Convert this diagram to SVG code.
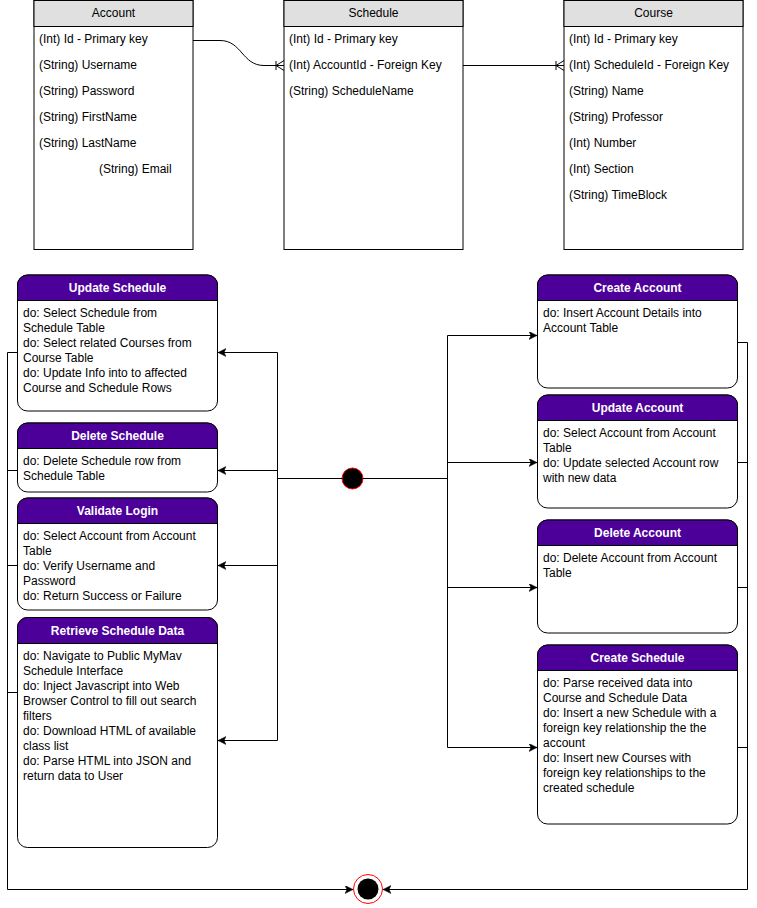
<svg xmlns="http://www.w3.org/2000/svg" width="757" height="908" viewBox="0 0 757 908">
<defs>
<style>
text{font-family:"Liberation Sans",Arial,Helvetica,sans-serif;font-size:12px;fill:#000}
.tbl{fill:#fff;stroke:#000;stroke-width:1}
.thead{fill:#e0e0e0;stroke:#000;stroke-width:1}
.ttl{text-anchor:middle}
.st{fill:#fff;stroke:#000;stroke-width:1}
.sh{fill:#4c0099;stroke:#000;stroke-width:1}
.sht{fill:#fff;font-weight:bold;text-anchor:middle}
.ln{fill:none;stroke:#000;stroke-width:1}
.arr{fill:none;stroke:#000;stroke-width:1;marker-end:url(#ah)}
</style>
<marker id="ah" markerUnits="userSpaceOnUse" markerWidth="10" markerHeight="10" refX="8" refY="4" orient="auto">
<path d="M0,0 L8,4 L0,8 L2,4 Z" fill="#000" stroke="#000" stroke-width="0.5"/>
</marker>
</defs>
<rect width="757" height="908" fill="#fff"/>

<g id="account">
<rect class="tbl" x="34" y="0.5" width="159" height="249"/>
<rect class="thead" x="34" y="0.5" width="159" height="26"/>
<text class="ttl" x="113.5" y="16.5">Account</text>
<text x="39" y="42.5">(Int) Id - Primary key</text>
<text x="39" y="68.5">(String) Username</text>
<text x="39" y="94.5">(String) Password</text>
<text x="39" y="120.5">(String) FirstName</text>
<text x="39" y="146.5">(String) LastName</text>
<text x="99" y="172.5">(String) Email</text>
</g>

<g id="schedule">
<rect class="tbl" x="284" y="0.5" width="179" height="249"/>
<rect class="thead" x="284" y="0.5" width="179" height="26"/>
<text class="ttl" x="373.5" y="16.5">Schedule</text>
<text x="289" y="42.5">(Int) Id - Primary key</text>
<text x="289" y="68.5">(Int) AccountId - Foreign Key</text>
<text x="289" y="94.5">(String) ScheduleName</text>
</g>

<g id="course">
<rect class="tbl" x="564" y="0.5" width="179" height="249"/>
<rect class="thead" x="564" y="0.5" width="179" height="26"/>
<text class="ttl" x="653.5" y="16.5">Course</text>
<text x="569" y="42.5">(Int) Id - Primary key</text>
<text x="569" y="68.5">(Int) ScheduleId - Foreign Key</text>
<text x="569" y="94.5">(String) Name</text>
<text x="569" y="120.5">(String) Professor</text>
<text x="569" y="146.5">(Int) Number</text>
<text x="569" y="172.5">(Int) Section</text>
<text x="569" y="198.5">(String) TimeBlock</text>
</g>

<g id="update-schedule">
<rect class="st" x="17.5" y="275" width="200" height="136" rx="10"/>
<path class="sh" d="M17.5,300.5 V285 A10,10 0 0 1 27.5,275 H207.5 A10,10 0 0 1 217.5,285 V300.5 Z"/>
<text class="sht" x="117.5" y="292">Update Schedule</text>
<text x="23" y="317">do: Select Schedule from</text>
<text x="23" y="332">Schedule Table</text>
<text x="23" y="347">do: Select related Courses from</text>
<text x="23" y="362">Course Table</text>
<text x="23" y="377">do: Update Info into to affected</text>
<text x="23" y="392">Course and Schedule Rows</text>
</g>

<g id="delete-schedule">
<rect class="st" x="17.5" y="423" width="200" height="69" rx="10"/>
<path class="sh" d="M17.5,448.5 V433 A10,10 0 0 1 27.5,423 H207.5 A10,10 0 0 1 217.5,433 V448.5 Z"/>
<text class="sht" x="117.5" y="440">Delete Schedule</text>
<text x="23" y="465">do: Delete Schedule row from</text>
<text x="23" y="480">Schedule Table</text>
</g>

<g id="validate-login">
<rect class="st" x="17.5" y="498" width="200" height="112" rx="10"/>
<path class="sh" d="M17.5,523.5 V508 A10,10 0 0 1 27.5,498 H207.5 A10,10 0 0 1 217.5,508 V523.5 Z"/>
<text class="sht" x="117.5" y="515">Validate Login</text>
<text x="23" y="540">do: Select Account from Account</text>
<text x="23" y="555">Table</text>
<text x="23" y="570">do: Verify Username and</text>
<text x="23" y="585">Password</text>
<text x="23" y="600">do: Return Success or Failure</text>
</g>

<g id="retrieve-schedule-data">
<rect class="st" x="17.5" y="617.5" width="200" height="230" rx="10"/>
<path class="sh" d="M17.5,643.5 V627.5 A10,10 0 0 1 27.5,617.5 H207.5 A10,10 0 0 1 217.5,627.5 V643.5 Z"/>
<text class="sht" x="117.5" y="635">Retrieve Schedule Data</text>
<text x="23" y="660">do: Navigate to Public MyMav</text>
<text x="23" y="675">Schedule Interface</text>
<text x="23" y="690">do: Inject Javascript into Web</text>
<text x="23" y="705">Browser Control to fill out search</text>
<text x="23" y="720">filters</text>
<text x="23" y="735">do: Download HTML of available</text>
<text x="23" y="750">class list</text>
<text x="23" y="765">do: Parse HTML into JSON and</text>
<text x="23" y="780">return data to User</text>
</g>

<g id="create-account">
<rect class="st" x="537.5" y="275" width="200" height="113" rx="10"/>
<path class="sh" d="M537.5,300.5 V285 A10,10 0 0 1 547.5,275 H727.5 A10,10 0 0 1 737.5,285 V300.5 Z"/>
<text class="sht" x="637.5" y="292">Create Account</text>
<text x="543" y="317">do: Insert Account Details into</text>
<text x="543" y="332">Account Table</text>
</g>

<g id="update-account">
<rect class="st" x="537.5" y="395" width="200" height="113" rx="10"/>
<path class="sh" d="M537.5,420.5 V405 A10,10 0 0 1 547.5,395 H727.5 A10,10 0 0 1 737.5,405 V420.5 Z"/>
<text class="sht" x="637.5" y="412">Update Account</text>
<text x="543" y="437">do: Select Account from Account</text>
<text x="543" y="452">Table</text>
<text x="543" y="467">do: Update selected Account row</text>
<text x="543" y="482">with new data</text>
</g>

<g id="delete-account">
<rect class="st" x="537.5" y="520" width="200" height="113" rx="10"/>
<path class="sh" d="M537.5,545.5 V530 A10,10 0 0 1 547.5,520 H727.5 A10,10 0 0 1 737.5,530 V545.5 Z"/>
<text class="sht" x="637.5" y="537">Delete Account</text>
<text x="543" y="562">do: Delete Account from Account</text>
<text x="543" y="577">Table</text>
</g>

<g id="create-schedule">
<rect class="st" x="537.5" y="645" width="200" height="179" rx="10"/>
<path class="sh" d="M537.5,670.5 V655 A10,10 0 0 1 547.5,645 H727.5 A10,10 0 0 1 737.5,655 V670.5 Z"/>
<text class="sht" x="637.5" y="662">Create Schedule</text>
<text x="543" y="687">do: Parse received data into</text>
<text x="543" y="702">Course and Schedule Data</text>
<text x="543" y="717">do: Insert a new Schedule with a</text>
<text x="543" y="732">foreign key relationship the the</text>
<text x="543" y="747">account</text>
<text x="543" y="762">do: Insert new Courses with</text>
<text x="543" y="777">foreign key relationships to the</text>
<text x="543" y="792">created schedule</text>
</g>

<g id="start">
<circle cx="352.5" cy="478.5" r="10.5" fill="#000" stroke="#ff0000" stroke-width="1"/>
</g>

<g id="end">
<circle cx="368" cy="889" r="14.5" fill="#fff" stroke="#ff0000" stroke-width="1"/>
<circle cx="368" cy="889" r="10.5" fill="#000"/>
</g>

<g id="connectors">
<path class="ln" d="M193,40.5 H220 C242,40.5 242,65.5 264,65.5 H284"/>
<path class="ln" d="M276,61 V70 M276,65.5 L284,60.5 M276,65.5 L284,70.5"/>
<path class="ln" d="M463,65.5 H564"/>
<path class="ln" d="M556,61 V70 M556,65.5 L564,60.5 M556,65.5 L564,70.5"/>

<path class="ln" d="M342,478.5 H277.5 M277.5,352.5 V740.5"/>
<path class="arr" d="M277.5,352.5 H218"/>
<path class="arr" d="M277.5,470.5 H218"/>
<path class="arr" d="M277.5,565.5 H218"/>
<path class="arr" d="M277.5,740.5 H218"/>

<path class="ln" d="M363,478.5 H447.5 M447.5,335.5 V747.5"/>
<path class="arr" d="M447.5,335.5 H537"/>
<path class="arr" d="M447.5,462.5 H537"/>
<path class="arr" d="M447.5,587.5 H537"/>
<path class="arr" d="M447.5,747.5 H537"/>

<path class="ln" d="M17.5,470.5 H7.5 M17.5,565.5 H7.5 M17.5,692.5 H7.5"/>
<path class="arr" d="M17.5,352.5 H7.5 V889.5 H353"/>

<path class="ln" d="M737.5,462.5 H747.5 M737.5,587.5 H747.5 M737.5,747.5 H747.5"/>
<path class="arr" d="M737.5,342.5 H747.5 V889.5 H383"/>
</g>
</svg>
